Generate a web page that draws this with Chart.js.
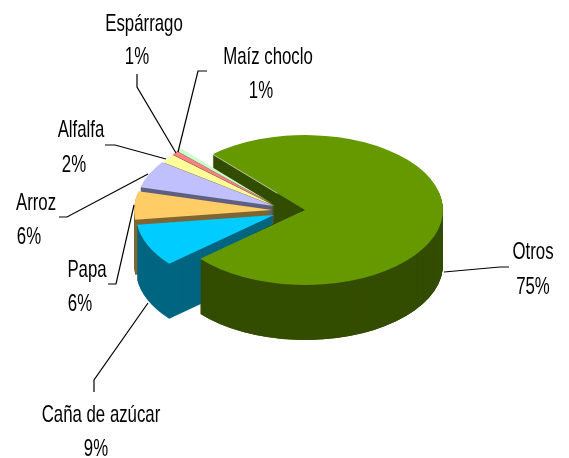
<!DOCTYPE html>
<html>
<head>
<meta charset="utf-8">
<title>Cultivos</title>
<script src="https://cdn.jsdelivr.net/npm/chart.js@4"></script>
<style>
  html, body { margin: 0; padding: 0; background: #fff; }
  canvas { display: block; }
</style>
</head>
<body>
<canvas id="grafico" width="569" height="458"></canvas>
<script>
const categorias = ["Otros", "Caña de azúcar", "Papa", "Arroz", "Alfalfa", "Espárrago", "Maíz choclo"]
const valores = [75.4, 9.2, 6.1, 5.9, 1.9, 0.8, 0.7]

const coresTopo = ["#669900", "#00CCFF", "#FFCC66", "#C0C0FF", "#FFFF99", "#FF8080", "#CCFFCC"]
const coresLado = ["#334D00", "#006680", "#806633", "#606080", "#808050", "#804040", "#668066"]
// how far each slice is pulled out, in px on screen
const explosao = [[0, 0], [-31, 5], [-33, 0], [-31, -4], [-30, -4], [-31, -5], [-32, -6]]

// squash and height of the fake 3D pie
const achatar = 0.543
const altura = 55

// label positions: center x and baseline of each text line, same order as categorias
const rotulos = [
  [[533, 259], [533, 294]],
  [[101, 422], [96, 456]],
  [[87, 277], [80, 311]],
  [[36, 210], [29, 244]],
  [[81, 137], [74, 172]],
  [[144, 31], [137, 64]],
  [[268, 64], [261, 98]]
]
const linhas = [
  [[444, 272], [500, 267], [509, 267]],
  [[148, 303], [94, 380], [94, 392]],
  [[134, 205], [116, 284], [108, 284]],
  [[148, 174], [67, 217], [59, 217]],
  [[166, 159], [115, 145], [105, 145]],
  [[176, 153], [137, 87], [137, 74]],
  [[178, 152], [198, 71], [207, 71]]
]

function desenhaArco(ctx, arco, i, deslocY, cor) {
  const opcoes = arco.options
  arco.options = Object.assign({}, opcoes, { backgroundColor: cor })
  ctx.save()
  ctx.translate(arco.x + explosao[i][0], arco.y + deslocY + explosao[i][1])
  ctx.scale(1, achatar)
  ctx.translate(-arco.x, -arco.y)
  arco.draw(ctx)
  ctx.restore()
  arco.options = opcoes
}

function desenhaLado(ctx, arco, i) {
  for (let d = altura; d >= 1; d--) {
    desenhaArco(ctx, arco, i, d, coresLado[i])
  }
}

const pizza3d = {
  id: 'pizza3d',
  beforeDatasetsDraw(chart) {
    const ctx = chart.ctx
    const arcos = chart.getDatasetMeta(0).data

    // back wall of the big slice goes behind everything
    desenhaLado(ctx, arcos[0], 0)

    // small slices from back to front
    for (let i = arcos.length - 1; i >= 1; i--) {
      desenhaLado(ctx, arcos[i], i)
      desenhaArco(ctx, arcos[i], i, 0, coresTopo[i])
    }

    // front wall of the big slice, only below its cut edge
    const a = arcos[0]
    const dx = Math.cos(a.endAngle) * a.outerRadius * 3
    const dy = Math.sin(a.endAngle) * a.outerRadius * achatar * 3
    ctx.save()
    ctx.beginPath()
    ctx.moveTo(a.x + dx, a.y + dy)
    ctx.lineTo(a.x - dx, a.y - dy)
    ctx.lineTo(a.x - dx, 2000)
    ctx.lineTo(a.x + dx, 2000)
    ctx.closePath()
    ctx.clip()
    desenhaLado(ctx, a, 0)
    ctx.restore()
    desenhaArco(ctx, a, 0, 0, coresTopo[0])

    // thin light edge on the back cut of the big slice
    const px = a.x + Math.cos(a.startAngle) * a.outerRadius
    const py = a.y + Math.sin(a.startAngle) * a.outerRadius * achatar
    ctx.save()
    ctx.strokeStyle = 'rgba(255, 255, 255, 0.6)'
    ctx.beginPath()
    ctx.moveTo(px, py)
    ctx.lineTo(px + (a.x - px) * 0.7, py + (a.y - py) * 0.7)
    ctx.stroke()
    ctx.restore()

    return false
  },
  afterDraw(chart) {
    const ctx = chart.ctx
    ctx.save()
    ctx.strokeStyle = '#000'
    ctx.lineWidth = 1.2
    linhas.forEach(l => {
      ctx.beginPath()
      l.forEach((p, k) => k ? ctx.lineTo(p[0], p[1]) : ctx.moveTo(p[0], p[1]))
      ctx.stroke()
    })
    ctx.fillStyle = '#000'
    ctx.font = '24px "Liberation Sans"'
    ctx.textAlign = 'center'
    categorias.forEach((nome, i) => {
      const textos = [nome, Math.round(valores[i]) + '%']
      textos.forEach((t, k) => {
        ctx.save()
        ctx.translate(rotulos[i][k][0], rotulos[i][k][1])
        ctx.scale(0.7, 1)
        ctx.fillText(t, 0, 0)
        ctx.restore()
      })
    })
    ctx.restore()
  }
}

new Chart(document.getElementById("grafico"), {
  type: 'pie',
  data: {
    labels: categorias,
    datasets: [{
      data: valores,
      backgroundColor: coresTopo,
      borderWidth: 0,
      radius: 138
    }]
  },
  options: {
    responsive: false,
    animation: false,
    rotation: 318,
    layout: { padding: { left: 41, bottom: 38 } },
    plugins: {
      legend: { display: false },
      tooltip: { enabled: false }
    }
  },
  plugins: [pizza3d]
})
</script>
</body>
</html>
